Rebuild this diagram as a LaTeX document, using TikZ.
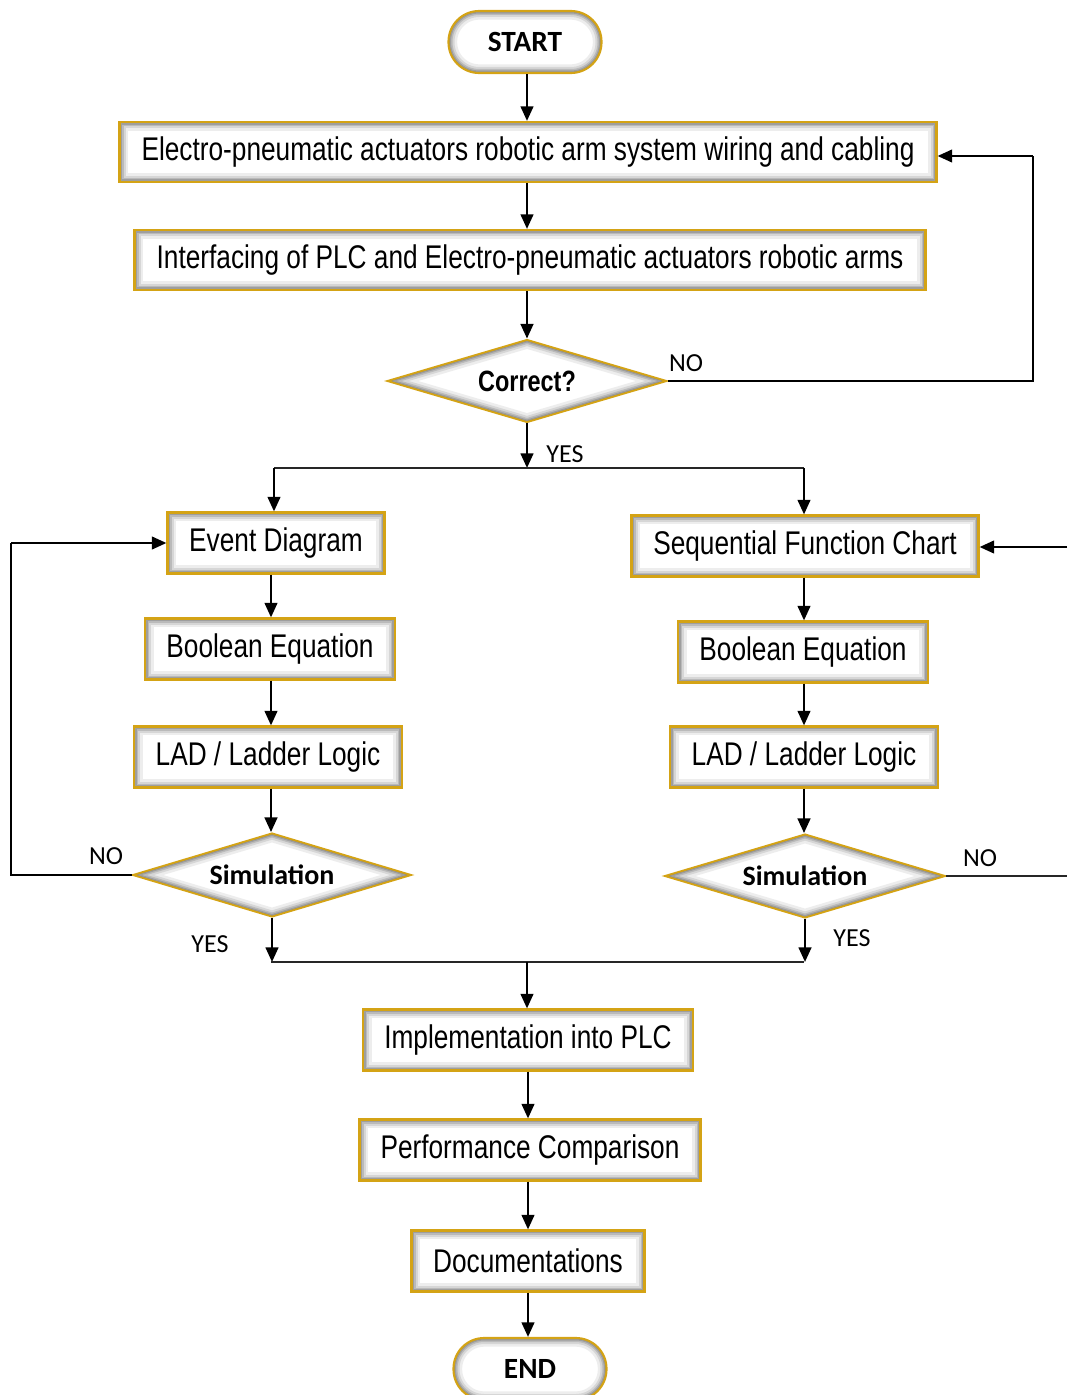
\documentclass[tikz,border=0pt]{standalone}
\usepackage{fontspec}
\setmainfont{Liberation Sans}
\newfontfamily\narrowf{Liberation Sans}[FakeStretch=0.8]
\newfontfamily\calibf{Carlito}
\usetikzlibrary{shapes.geometric,arrows.meta}
\definecolor{goldline}{HTML}{D4A315}
\def\ppb{path picture bounding box}
\newcommand\bevelbands[1]{%
  \foreach \bwd/\bcl in {13/7,9/16,6/27,3.8/38,1.6/50}{%
    \draw[line width=\bwd pt, draw=black!\bcl, line join=round, shift={(-2pt,3.5pt)}] #1;}}
\tikzset{
  bw/.style={minimum width=#1*0.75pt},
  bh/.style={minimum height=#1*0.75pt},
  arr/.style={line width=1.8pt, -{Triangle[length=11pt,width=9.5pt]}},
  thinl/.style={line width=0.9pt, draw=black!85},
  loopl/.style={line width=1.1pt},
  box/.style={draw=goldline, line width=1.6pt, fill=white, inner sep=0pt,
    font=\narrowf\fontsize{24.6}{28}\selectfont,
    path picture={\bevelbands{(\ppb.south west) rectangle (\ppb.north east)}}},
  dia/.style={diamond, aspect=3.4, draw=goldline, line width=1.4pt, fill=white, inner sep=0pt,
    path picture={\bevelbands{(\ppb.west) -- (\ppb.north) -- (\ppb.east) -- (\ppb.south) -- cycle}}},
  term/.style={draw=goldline, line width=1.6pt, fill=white, rounded corners=23pt, inner sep=0pt,
    minimum width=153*0.75pt, minimum height=62*0.75pt,
    font=\calibf\bfseries\fontsize{22}{26}\selectfont,
    path picture={\bevelbands{(\ppb.south west) [rounded corners=23pt] rectangle (\ppb.north east)}}},
  lbl/.style={font=\calibf\fontsize{19.5}{22}\selectfont, inner sep=0pt},
}
\begin{document}
\begin{tikzpicture}[x=0.75pt,y=-0.75pt]
\useasboundingbox (0,0) rectangle (1067,1395);
\coordinate (cx) at (527,0);
\coordinate (cx2) at (528,0);
\coordinate (lx) at (271,0);
\coordinate (rx) at (804,0);

\node[term] (start) at (525,42) {START};
\node[box,bw=817,bh=60] (b1) at (528,152) {Electro-pneumatic actuators robotic arm system wiring and cabling};
\node[box,bw=791,bh=60] (b2) at (530,260) {Interfacing of PLC and Electro-pneumatic actuators robotic arms};
\node[dia,bw=280,bh=83,font=\narrowf\bfseries\fontsize{22}{26}\selectfont] (cor) at (527,381) {Correct?};
\node[box,bw=217,bh=61] (ev) at (276,543) {Event Diagram};
\node[box,bw=347,bh=61] (sfc) at (805,546) {Sequential Function Chart};
\node[box,bw=250,bh=61] (bl) at (270,649) {Boolean Equation};
\node[box,bw=250,bh=61] (br) at (803,652) {Boolean Equation};
\node[box,bw=268,bh=61] (ll) at (268,757) {LAD / Ladder Logic};
\node[box,bw=268,bh=61] (lr) at (804,757) {LAD / Ladder Logic};
\node[dia,bw=279,bh=84,font=\calibf\bfseries\fontsize{21}{25}\selectfont] (sl) at (272,875) {Simulation};
\node[dia,bw=281,bh=84,font=\calibf\bfseries\fontsize{21}{25}\selectfont] (sr) at (805,876) {Simulation};
\node[box,bw=330,bh=61] (imp) at (528,1040) {Implementation into PLC};
\node[box,bw=341,bh=61] (perf) at (530,1150) {Performance Comparison};
\node[box,bw=233,bh=61] (doc) at (528,1261) {Documentations};
\node[term] (end) at (530,1369) {END};

% main column
\draw[arr] (start.south -| cx) -- (b1.north -| cx);
\draw[arr] (b1.south -| cx) -- (b2.north -| cx);
\draw[arr] (b2.south -| cx) -- (cor.north);
% NO loop top
\coordinate (rl) at (1033,156);
\draw[loopl] (cor.east) -| (rl);
\draw[arr] (rl) -- (b1.east |- rl);
% YES split
\coordinate (ys) at (527,468);
\coordinate (ysl) at (274,468);
\coordinate (ysr) at (804,468);
\draw[arr] (cor.south) -- (ys);
\draw[thinl] (ysl) -- (ysr);
\draw[arr] (ysl) -- (ysl |- ev.north);
\draw[arr] (ysr) -- (ysr |- sfc.north);
% left column
\draw[arr] (ev.south -| lx) -- (bl.north -| lx);
\draw[arr] (bl.south -| lx) -- (ll.north -| lx);
\draw[arr] (ll.south -| lx) -- (sl.north -| lx);
% right column
\draw[arr] (sfc.south -| rx) -- (br.north -| rx);
\draw[arr] (br.south -| rx) -- (lr.north -| rx);
\draw[arr] (lr.south -| rx) -- (sr.north -| rx);
% left NO loop
\coordinate (ll2) at (11,543);
\draw[loopl] (sl.west) -| (ll2);
\draw[arr] (ll2) -- (ev.west |- ll2);
% right NO loop (runs off the page)
\coordinate (rn) at (1067,876);
\draw[thinl] (sr.east) -- (rn);
\coordinate (rin) at (1067,547);
\draw[arr] (rin) -- (sfc.east |- rin);
% YES merge
\coordinate (yl2) at (271,962);
\coordinate (yr2) at (804,962);
\coordinate (ym) at (527,962);
\draw[arr] (sl.south) -- (sl.south |- yl2);
\draw[arr] (sr.south) -- (sr.south |- yr2);
\draw[thinl] (yl2) -- (yr2);
\draw[arr] (ym) -- (ym |- imp.north);
% bottom column
\draw[arr] (imp.south -| cx2) -- (perf.north -| cx2);
\draw[arr] (perf.south -| cx2) -- (doc.north -| cx2);
\draw[arr] (doc.south -| cx2) -- (end.north -| cx2);

% labels
\node[lbl] (noa) at (686,363) {NO};
\node[lbl] (yesa) at (565,454) {YES};
\node[lbl] (nob) at (106,856) {NO};
\node[lbl] (yesb) at (210,944) {YES};
\node[lbl] (yesc) at (852,938) {YES};
\node[lbl] (noc) at (980,858) {NO};
\end{tikzpicture}
\end{document}
